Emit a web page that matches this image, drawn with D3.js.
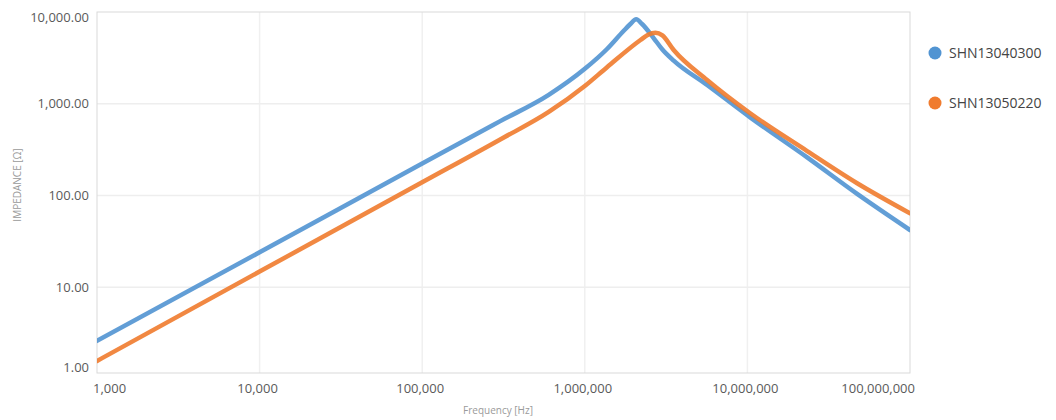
<!DOCTYPE html>
<html>
<head>
<meta charset="utf-8">
<script src="https://cdn.jsdelivr.net/npm/d3@7"></script>
<style>
  html, body { margin: 0; padding: 0; background: #fff; }
  svg { display: block; font-family: "Open Sans", "DejaVu Sans", sans-serif; }
</style>
</head>
<body>
<svg id="chart" width="1056" height="420"></svg>
<script>
// ---- data ----
const seriesNames = ["SHN13040300", "SHN13050220"];
const seriesColors = ["#5194d2", "#f07b2e"];

const freqA = [1e3, 1e4, 1e5, 3e5, 6e5, 1e6, 1.37e6, 1.73e6, 1.9e6, 2.07e6, 2.25e6, 2.65e6, 3.0e6, 3.52e6, 5.65e6, 1.04e7, 2.33e7, 4.73e7, 1e8];
const impA  = [2.6, 24, 223, 642, 1250, 2400, 3950, 6200, 7350, 8320, 7400, 5200, 3900, 2950, 1600, 710, 260, 104, 42];

const freqB = [1e3, 1e4, 1e5, 3e5, 6e5, 1e6, 1.37e6, 2.2e6, 2.45e6, 2.72e6, 3.0e6, 3.52e6, 5.65e6, 1.04e7, 2.33e7, 4.73e7, 1e8];
const impB  = [1.57, 14.8, 139, 405, 813, 1560, 2500, 4950, 5650, 5945, 5560, 3855, 1815, 787, 305, 136, 64];

const xTicks = [1e3, 1e4, 1e5, 1e6, 1e7, 1e8];
const xTickLabels = ["1,000", "10,000", "100,000", "1,000,000", "10,000,000", "100,000,000"];
const yTicks = [1, 10, 100, 1000, 10000];
const yTickLabels = ["1.00", "10.00", "100.00", "1,000.00", "10,000.00"];

// ---- layout ----
const svg = d3.select("#chart");
const L = 97, R = 910, T = 12, B = 373;

const x = d3.scaleLog().domain([1e3, 1e8]).range([L, R]);
const y = d3.scaleLog().domain([1.16, 10000]).range([B, T]);

// gridlines
const g = svg.append("g");
g.selectAll(".vgrid").data(xTicks.slice(1, -1)).enter().append("line")
  .attr("x1", d => x(d)).attr("x2", d => x(d)).attr("y1", T).attr("y2", B)
  .attr("stroke", "#f0f0f0").attr("stroke-width", 1.5);
g.selectAll(".hgrid").data(yTicks.filter(d => d > 1 && d < 10000)).enter().append("line")
  .attr("x1", L).attr("x2", R).attr("y1", d => y(d)).attr("y2", d => y(d))
  .attr("stroke", "#eeeeee").attr("stroke-width", 1.5);

// plot frame
svg.append("rect").attr("x", L).attr("y", T).attr("width", R - L).attr("height", B - T)
  .attr("fill", "none").attr("stroke", "#d9d9d9").attr("stroke-width", 1);

// lines
const line = d3.line().x(d => x(d[0])).y(d => y(d[1])).curve(d3.curveMonotoneX);
const data = [d3.zip(freqA, impA), d3.zip(freqB, impB)];
svg.append("defs").append("clipPath").attr("id", "clip")
  .append("rect").attr("x", L).attr("y", T).attr("width", R - L).attr("height", B - T);
const lines = svg.append("g").attr("clip-path", "url(#clip)");
data.forEach((s, i) => {
  lines.append("path").datum(s).attr("d", line)
    .attr("fill", "none").attr("stroke", seriesColors[i])
    .attr("stroke-width", 4.5).attr("stroke-linejoin", "round").attr("stroke-linecap", "round")
    .attr("opacity", 0.9);
});

// y tick labels (end labels clamped inside the frame)
const yLab = svg.append("g").attr("font-size", 13).attr("fill", "#5a5a5a").attr("text-anchor", "end");
yTicks.forEach((t, i) => {
  let yy = y(t);
  if (yy > B - 6) yy = B - 6;
  if (yy < T + 5) yy = T + 5;
  yLab.append("text").attr("x", 89).attr("y", yy).attr("dy", "0.35em").text(yTickLabels[i]);
});

// x tick labels
const xLab = svg.append("g").attr("font-size", 13).attr("fill", "#5a5a5a");
xTicks.forEach((t, i) => {
  const txt = xLab.append("text").attr("y", 393).text(xTickLabels[i]);
  if (i === 0) txt.attr("x", x(t) - 4).attr("text-anchor", "start");
  else if (i === xTicks.length - 1) txt.attr("x", x(t) + 5).attr("text-anchor", "end");
  else txt.attr("x", x(t) - 2).attr("text-anchor", "middle");
});

// axis titles
svg.append("text").attr("transform", "translate(21,185) rotate(-90)")
  .attr("text-anchor", "middle").attr("font-size", 10).attr("fill", "#9a9a9a")
  .text("IMPEDANCE [Ω]");
svg.append("text").attr("x", 498).attr("y", 414)
  .attr("text-anchor", "middle").attr("font-size", 10).attr("fill", "#9a9a9a")
  .text("Frequency [Hz]");

// legend
const leg = svg.append("g");
seriesNames.forEach((n, i) => {
  const ly = 53 + i * 50;
  leg.append("circle").attr("cx", 935).attr("cy", ly).attr("r", 6.5).attr("fill", seriesColors[i]);
  leg.append("text").attr("x", 949).attr("y", ly).attr("dy", "0.36em")
    .attr("font-size", 14).attr("fill", "#444").text(n);
});
</script>
</body>
</html>
